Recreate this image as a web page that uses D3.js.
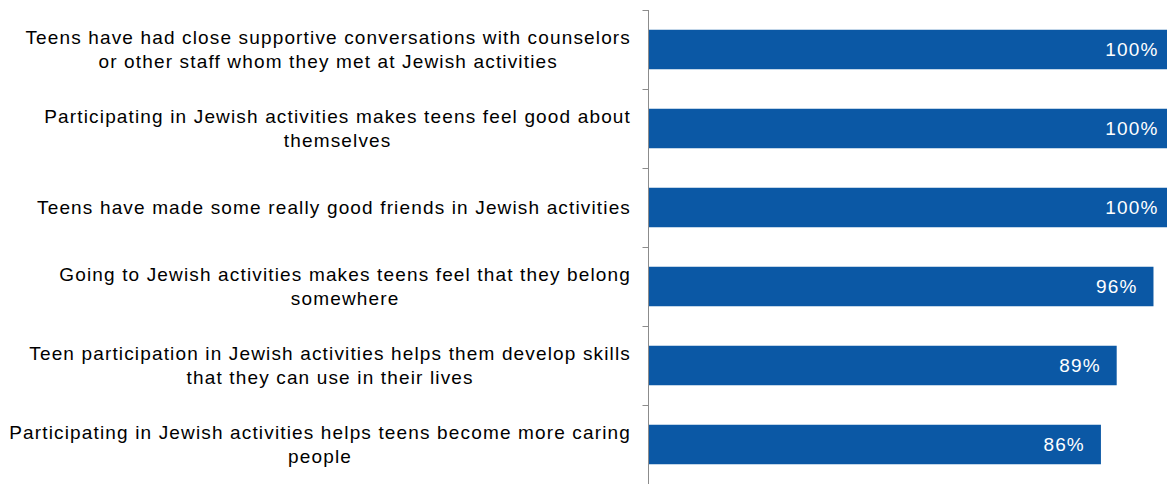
<!DOCTYPE html>
<html>
<head>
<meta charset="utf-8">
<script src="https://cdn.jsdelivr.net/npm/d3@7"></script>
<style>
  html, body { margin: 0; padding: 0; background: #fff; overflow: hidden; }
  svg { display: block; }
</style>
</head>
<body>
<svg id="chart" width="1167" height="484"></svg>
<script>
// Category labels, already broken into display lines
const categories = [
  ["Teens have had close supportive conversations with counselors", "or other staff whom they met at Jewish activities"],
  ["Participating in Jewish activities makes teens feel good about", "themselves"],
  ["Teens have made some really good friends in Jewish activities"],
  ["Going to Jewish activities makes teens feel that they belong", "somewhere"],
  ["Teen participation in Jewish activities helps them develop skills", "that they can use in their lives"],
  ["Participating in Jewish activities helps teens become more caring", "people"]
];
const values = [100, 100, 100, 96, 89, 86];
const valueLabels = ["100%", "100%", "100%", "96%", "89%", "86%"];

const svg = d3.select("#chart");
const W = 1167, H = 484;
const axisX = 648.5;
const font = "Liberation Sans, Arial, sans-serif";
const fontSize = 19;
const spacing = 1.15;

const ids = categories.map((d, i) => i);

const y = d3.scaleBand()
  .domain(ids)
  .range([10, 484])
  .paddingInner(0.5)
  .paddingOuter(0.25);

const x = d3.scaleLinear()
  .domain([0, 100])
  .range([649, 1174.5]);

// bars
svg.append("g").selectAll("rect")
  .data(values)
  .join("rect")
  .attr("x", x(0))
  .attr("y", (d, i) => y(i))
  .attr("width", d => x(d) - x(0))
  .attr("height", y.bandwidth())
  .attr("fill", "#0b58a5");

// value labels inside bar ends
svg.append("g").selectAll("text")
  .data(values)
  .join("text")
  .attr("x", d => x(d) - 16)
  .attr("y", (d, i) => y(i) + y.bandwidth() / 2)
  .attr("dy", "0.35em")
  .attr("text-anchor", "end")
  .attr("font-family", font)
  .attr("font-size", fontSize)
  .attr("letter-spacing", spacing)
  .attr("fill", "#fff")
  .text((d, i) => valueLabels[i]);

// category axis: line plus ticks at category boundaries
const step = y.step();
const start = y.range()[0];
const axis = svg.append("g");
axis.append("line")
  .attr("x1", axisX).attr("x2", axisX)
  .attr("y1", start).attr("y2", H)
  .attr("stroke", "#8c8c8c").attr("stroke-width", 1);
axis.selectAll("line.tick")
  .data(d3.range(categories.length + 1))
  .join("line")
  .attr("class", "tick")
  .attr("x1", axisX - 6).attr("x2", axisX)
  .attr("y1", i => Math.round(start + i * step) + 0.5)
  .attr("y2", i => Math.round(start + i * step) + 0.5)
  .attr("stroke", "#8c8c8c").attr("stroke-width", 1);

// category labels: each block right-aligned to the axis, lines centred in the block
const lineH = 24;
const labelRight = 631;
const labels = svg.append("g");
categories.forEach((lines, i) => {
  const g = labels.append("g");
  const cy = y(i) + y.bandwidth() / 2;
  const texts = lines.map((t, k) => g.append("text")
    .attr("font-family", font)
    .attr("font-size", fontSize)
    .attr("letter-spacing", spacing)
    .attr("fill", "#000")
    .attr("text-anchor", "middle")
    .attr("dy", "0.35em")
    .attr("y", cy + (k - (lines.length - 1) / 2) * lineH)
    .text(t));
  const maxW = d3.max(texts, t => t.node().getComputedTextLength());
  texts.forEach(t => t.attr("x", labelRight - maxW / 2));
});
</script>
</body>
</html>
